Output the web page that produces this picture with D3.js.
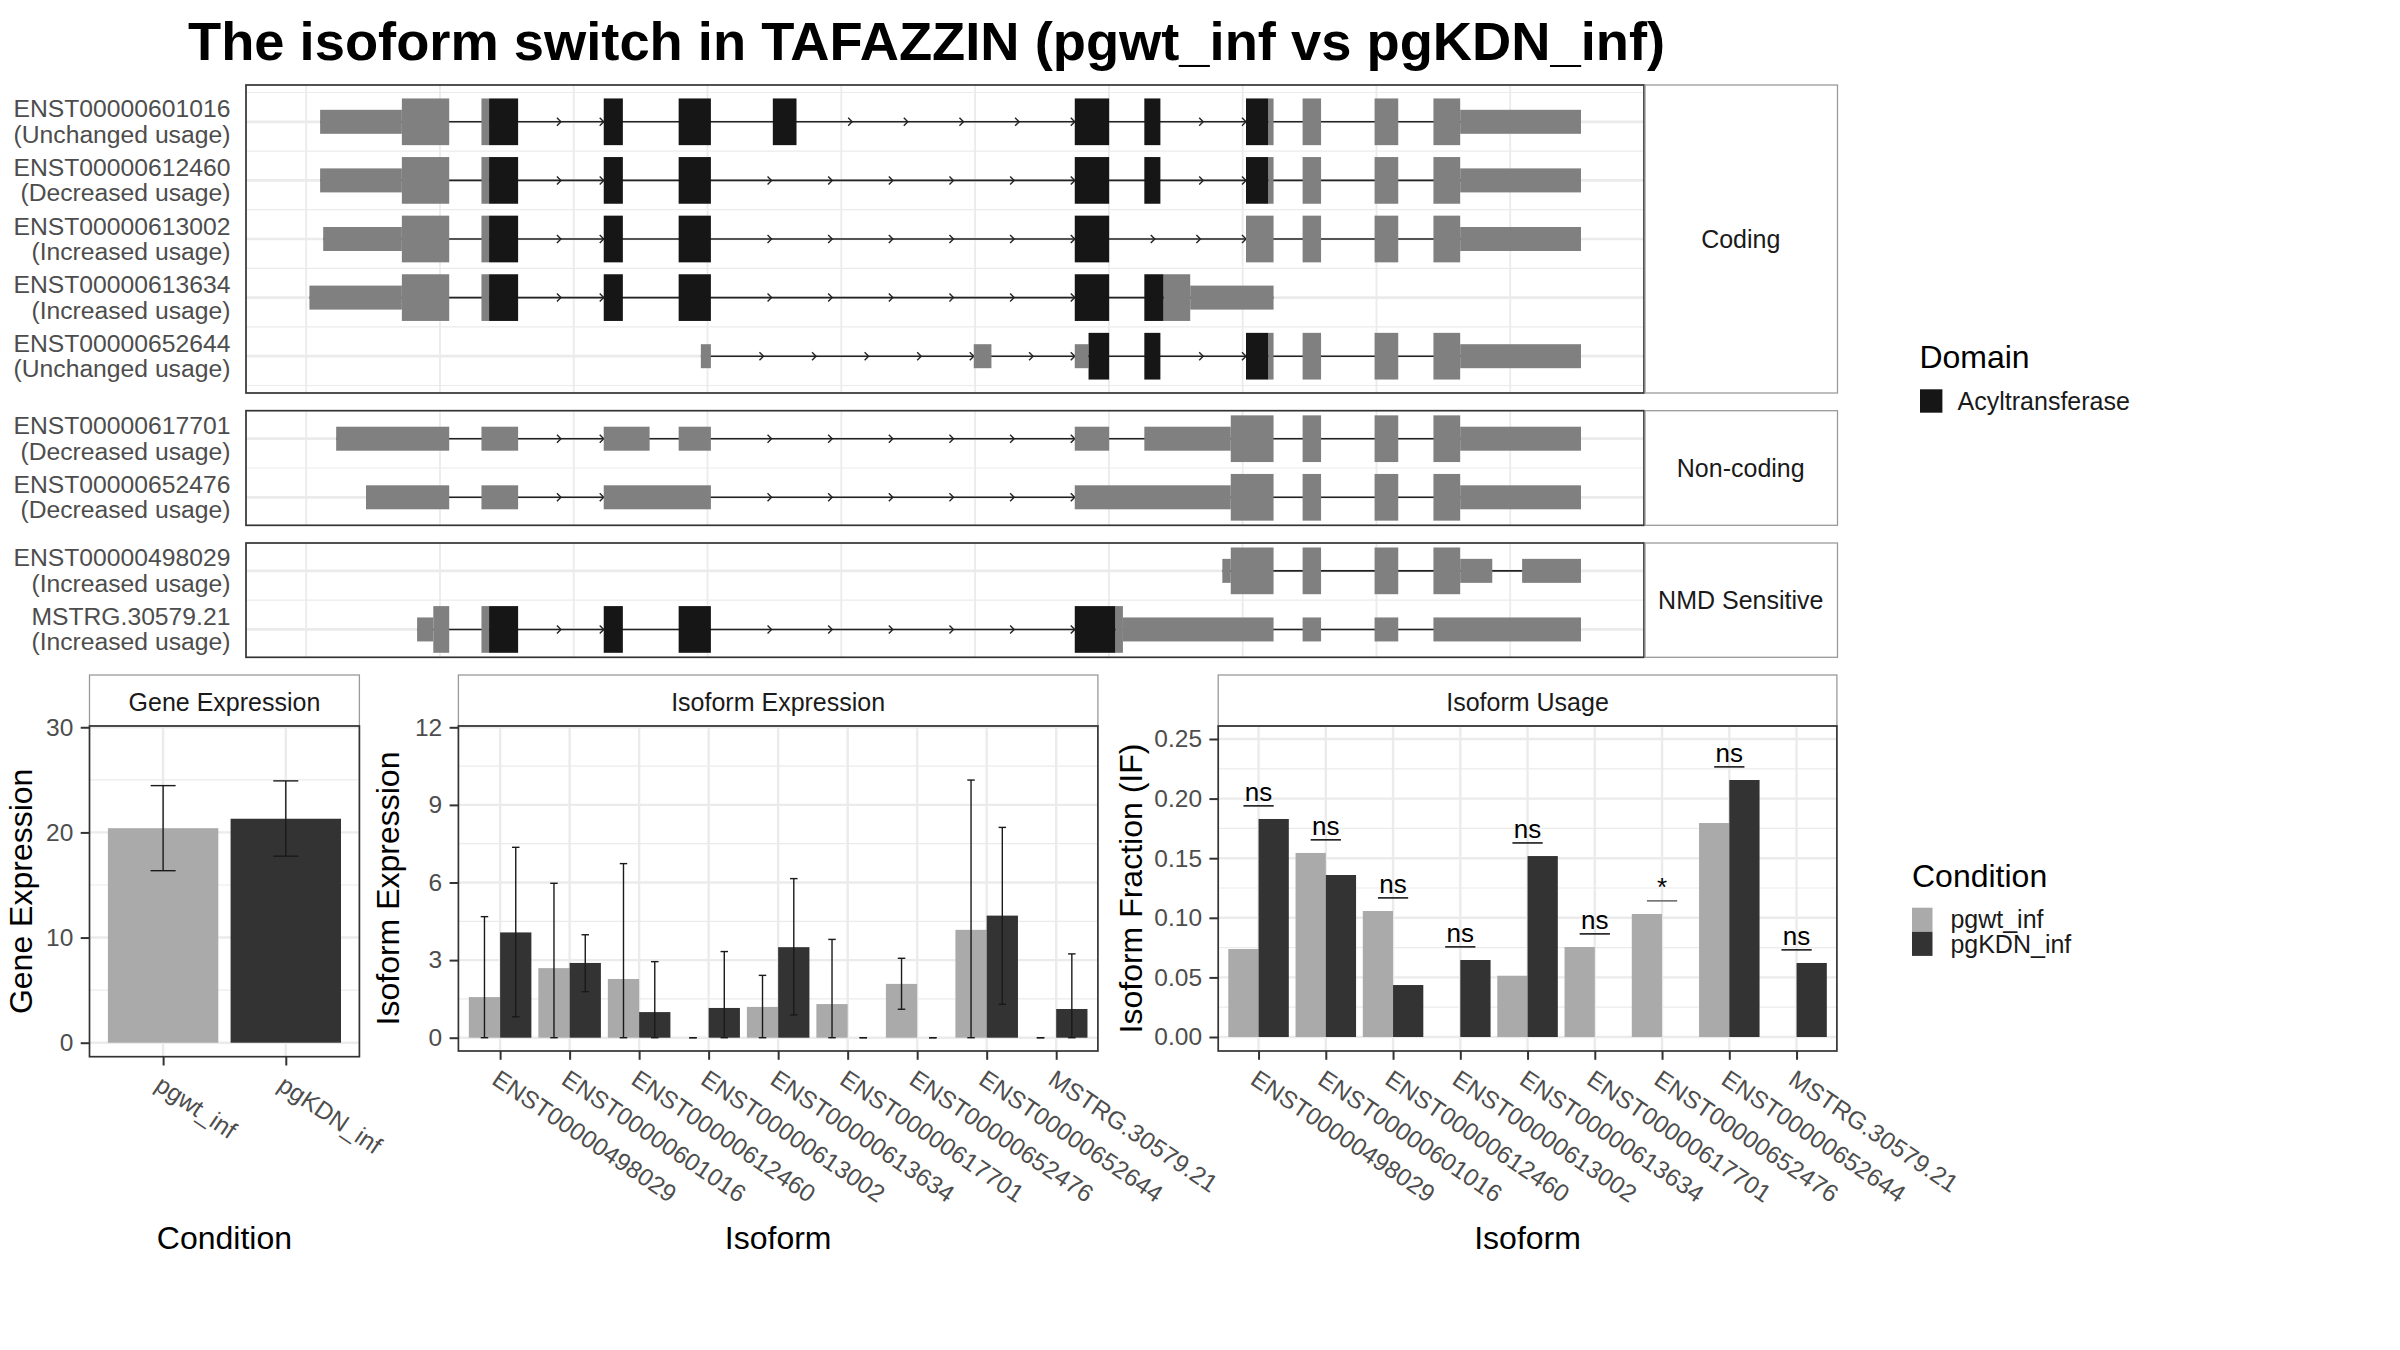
<!DOCTYPE html>
<html>
<head>
<meta charset="utf-8">
<title>Isoform switch in TAFAZZIN</title>
<script src="https://cdn.jsdelivr.net/npm/d3@7/dist/d3.min.js"></script>
<style>
  body { margin: 0; background: #fff; }
  svg text { font-family: "Liberation Sans", Arial, Helvetica, sans-serif; }
</style>
</head>
<body>
<svg id="chart" width="2400" height="1350"></svg>
<script>
// ---------- data ----------
const title = "The isoform switch in TAFAZZIN (pgwt_inf vs pgKDN_inf)";

const txGroups = ["Coding", "Non-coding", "NMD Sensitive"];
const txNames = ["ENST00000601016", "ENST00000612460", "ENST00000613002", "ENST00000613634", "ENST00000652644",
                 "ENST00000617701", "ENST00000652476",
                 "ENST00000498029", "MSTRG.30579.21"];
const txUsage = ["Unchanged usage", "Decreased usage", "Increased usage", "Increased usage", "Unchanged usage",
                 "Decreased usage", "Decreased usage",
                 "Increased usage", "Increased usage"];
const txGroup = [0, 0, 0, 0, 0, 1, 1, 2, 2];

// exon pieces (rescaled genomic position): [start, end, kind]  u = UTR, c = CDS, d = Acyltransferase
const txExons = [
  [[10.4, 71.5, "u"], [71.5, 106.9, "c"], [131, 136.7, "c"], [136.7, 158.4, "d"], [222.4, 236.7, "d"], [278.4, 302.5, "d"],
   [348.8, 366.5, "d"], [574.5, 600.2, "d"], [626.5, 638.5, "d"], [702.5, 719.1, "d"], [719.1, 723.1, "c"],
   [744.8, 758.6, "c"], [798.6, 816.3, "c"], [842.6, 862.6, "c"], [862.6, 952.9, "u"]],
  [[10.4, 71.5, "u"], [71.5, 106.9, "c"], [131, 136.7, "c"], [136.7, 158.4, "d"], [222.4, 236.7, "d"], [278.4, 302.5, "d"],
   [574.5, 600.2, "d"], [626.5, 638.5, "d"], [702.5, 719.1, "d"], [719.1, 723.1, "c"],
   [744.8, 758.6, "c"], [798.6, 816.3, "c"], [842.6, 862.6, "c"], [862.6, 952.9, "u"]],
  [[12.7, 71.5, "u"], [71.5, 106.9, "c"], [131, 136.7, "c"], [136.7, 158.4, "d"], [222.4, 236.7, "d"], [278.4, 302.5, "d"],
   [574.5, 600.2, "d"], [702.5, 723.1, "c"],
   [744.8, 758.6, "c"], [798.6, 816.3, "c"], [842.6, 862.6, "c"], [862.6, 952.9, "u"]],
  [[2.4, 71.5, "u"], [71.5, 106.9, "c"], [131, 136.7, "c"], [136.7, 158.4, "d"], [222.4, 236.7, "d"], [278.4, 302.5, "d"],
   [574.5, 600.2, "d"], [626.5, 640.8, "d"], [640.8, 660.8, "c"], [660.8, 723.1, "u"]],
  [[295, 302.5, "u"], [499, 512.2, "u"], [574.5, 584.8, "u"], [584.8, 600.2, "d"], [626.5, 638.5, "d"],
   [702.5, 719.1, "d"], [719.1, 723.1, "c"],
   [744.8, 758.6, "c"], [798.6, 816.3, "c"], [842.6, 862.6, "c"], [862.6, 952.9, "u"]],
  [[22.4, 106.9, "u"], [131, 158.4, "u"], [222.4, 256.7, "u"], [278.4, 302.5, "u"], [574.5, 600.2, "u"],
   [626.5, 691.1, "u"], [691.1, 723.1, "c"],
   [744.8, 758.6, "c"], [798.6, 816.3, "c"], [842.6, 862.6, "c"], [862.6, 952.9, "u"]],
  [[44.7, 106.9, "u"], [131, 158.4, "u"], [222.4, 302.5, "u"], [574.5, 691.1, "u"], [691.1, 723.1, "c"],
   [744.8, 758.6, "c"], [798.6, 816.3, "c"], [842.6, 862.6, "c"], [862.6, 952.9, "u"]],
  [[684.8, 691.1, "u"], [691.1, 723.1, "c"], [744.8, 758.6, "c"], [798.6, 816.3, "c"], [842.6, 862.6, "c"],
   [862.6, 886.6, "u"], [908.9, 952.9, "u"]],
  [[82.9, 95, "u"], [95, 106.9, "c"], [131, 136.7, "c"], [136.7, 158.4, "d"], [222.4, 236.7, "d"], [278.4, 302.5, "d"],
   [574.5, 604.8, "d"], [604.8, 610.5, "c"], [610.5, 723.1, "u"],
   [744.8, 758.6, "u"], [798.6, 816.3, "u"], [842.6, 952.9, "u"]]
];
const gridBreaks = [0, 100, 200, 300, 400, 500, 600, 700, 800, 900];

const conditions = ["pgwt_inf", "pgKDN_inf"];
const geneExpr = [20.4, 21.3];
const geneLo = [16.36, 17.74];
const geneHi = [24.45, 24.9];
const geneTicks = [0, 10, 20, 30];

const isoforms = ["ENST00000498029", "ENST00000601016", "ENST00000612460", "ENST00000613002", "ENST00000613634",
                  "ENST00000617701", "ENST00000652476", "ENST00000652644", "MSTRG.30579.21"];
const exprWt   = [1.57, 2.69, 2.27, 0, 1.19, 1.30, 2.08, 4.17, 0];
const exprWtLo = [0, 0, 0, 0, 0, 0, 1.10, 0, 0];
const exprWtHi = [4.68, 5.97, 6.73, 0, 2.41, 3.80, 3.07, 9.96, 0];
const exprKd   = [4.07, 2.89, 0.99, 1.15, 3.50, 0, 0, 4.72, 1.11];
const exprKdLo = [0.81, 1.78, 0, 0, 0.88, 0, 0, 1.29, 0];
const exprKdHi = [7.36, 3.98, 2.94, 3.33, 6.15, 0, 0, 8.13, 3.24];
const exprTicks = [0, 3, 6, 9, 12];

const ifWt = [0.0738, 0.1544, 0.1057, 0, 0.0514, 0.0755, 0.1032, 0.1795, 0];
const ifKd = [0.1829, 0.1359, 0.0436, 0.0646, 0.1518, 0, 0, 0.2156, 0.0621];
const ifSig = ["ns", "ns", "ns", "ns", "ns", "ns", "*", "ns", "ns"];
const ifTicks = [0, 0.05, 0.10, 0.15, 0.20, 0.25];

// ---------- style ----------
const GRID = "#ebebeb", BORDER = "#333333", STRIP = "#9a9a9a", AXTXT = "#4d4d4d", INK = "#1a1a1a";
const exonFill = {u: "#808080", c: "#808080", d: "#161616"};
const condFill = ["#aaaaaa", "#333333"];

const svg = d3.select("#chart");
svg.append("rect").attr("width", 2400).attr("height", 1350).attr("fill", "#fff");

svg.append("text").attr("x", 188).attr("y", 60)
  .attr("font-size", 54.3).attr("font-weight", "bold").attr("fill", "#000")
  .text(title);

// ---------- transcript structure ----------
const txLeft = 246, txRight = 1644, stripRight = 1837.5, rowStep = 58.6;
const xg = d3.scaleLinear().domain([-45, 1000]).range([txLeft, txRight]);
const txPanels = [
  {top: 85, bottom: 393},
  {top: 410.7, bottom: 525.3},
  {top: 543, bottom: 657.3}
];

txPanels.forEach((p, pi) => {
  const idx = txNames.map((d, i) => i).filter(i => txGroup[i] === pi);
  const names = idx.map(i => txNames[i]);
  const pad = ((p.bottom - p.top) / rowStep - (names.length - 1)) / 2;
  const y = d3.scalePoint().domain(names).range([p.top, p.bottom]).padding(pad);
  const step = y.step();
  const g = svg.append("g");

  g.selectAll(".vg").data(gridBreaks).enter().append("line")
    .attr("x1", d => xg(d)).attr("x2", d => xg(d))
    .attr("y1", p.top).attr("y2", p.bottom)
    .attr("stroke", GRID).attr("stroke-width", 1.8);

  const minors = names.map(n => y(n) - step / 2).concat([y(names[names.length - 1]) + step / 2])
    .filter(v => v > p.top + 2 && v < p.bottom - 2);
  g.selectAll(".mg").data(minors).enter().append("line")
    .attr("x1", txLeft).attr("x2", txRight).attr("y1", d => d).attr("y2", d => d)
    .attr("stroke", GRID).attr("stroke-width", 1.2);
  g.selectAll(".hg").data(names).enter().append("line")
    .attr("x1", txLeft).attr("x2", txRight).attr("y1", d => y(d)).attr("y2", d => y(d))
    .attr("stroke", GRID).attr("stroke-width", 2.7);

  idx.forEach(i => {
    const cy = y(txNames[i]);
    const ex = txExons[i];
    g.append("line")
      .attr("x1", xg(d3.min(ex, e => e[0]))).attr("x2", xg(d3.max(ex, e => e[1])))
      .attr("y1", cy).attr("y2", cy)
      .attr("stroke", "#222").attr("stroke-width", 1.6);

    // direction arrows along the introns
    for (let k = 0; k < ex.length - 1; k++) {
      const a = xg(ex[k][1]), b = xg(ex[k + 1][0]);
      const L = b - a;
      if (L < 70) continue;
      const m = Math.ceil(L / 61);
      for (let j = 1; j <= m; j++) {
        const t = a + L * j / m;
        g.append("path")
          .attr("d", `M${t - 4},${cy - 4}L${t},${cy}L${t - 4},${cy + 4}`)
          .attr("fill", "none").attr("stroke", "#222").attr("stroke-width", 1.4);
      }
    }

    const order = ex.filter(e => e[2] !== "d").concat(ex.filter(e => e[2] === "d"));
    g.selectAll(null).data(order).enter().append("rect")
      .attr("x", e => xg(e[0]))
      .attr("width", e => xg(e[1]) - xg(e[0]))
      .attr("y", e => cy - (e[2] === "u" ? 12 : 23.35))
      .attr("height", e => e[2] === "u" ? 24 : 46.7)
      .attr("fill", e => exonFill[e[2]]);

    g.append("text").attr("x", 230.4).attr("y", cy - 4.4)
      .attr("text-anchor", "end").attr("font-size", 24.7).attr("fill", AXTXT)
      .text(txNames[i]);
    g.append("text").attr("x", 230.4).attr("y", cy + 21)
      .attr("text-anchor", "end").attr("font-size", 24.7).attr("fill", AXTXT)
      .text("(" + txUsage[i] + ")");
  });

  g.append("rect").attr("x", txLeft).attr("y", p.top)
    .attr("width", txRight - txLeft).attr("height", p.bottom - p.top)
    .attr("fill", "none").attr("stroke", BORDER).attr("stroke-width", 1.7);
  g.append("rect").attr("x", txRight + 1).attr("y", p.top)
    .attr("width", stripRight - txRight - 1).attr("height", p.bottom - p.top)
    .attr("fill", "#fff").attr("stroke", STRIP).attr("stroke-width", 1.3);
  g.append("text").attr("x", (txRight + stripRight) / 2).attr("y", (p.top + p.bottom) / 2 + 8.8)
    .attr("text-anchor", "middle").attr("font-size", 25).attr("fill", INK)
    .text(txGroups[pi]);
});

// Domain legend
svg.append("text").attr("x", 1919.4).attr("y", 368).attr("font-size", 32).attr("fill", "#000").text("Domain");
svg.append("rect").attr("x", 1920).attr("y", 389.3).attr("width", 22.4).attr("height", 23.4).attr("fill", exonFill.d);
svg.append("text").attr("x", 1957.6).attr("y", 409.8).attr("font-size", 25).attr("fill", INK).text("Acyltransferase");

// ---------- bar panels ----------
const stripTop = 675;

function barPanel(o) {
  const x = d3.scalePoint().domain(o.cats).range([o.left, o.right]).padding(0.6);
  const y = d3.scaleLinear().domain(o.yDomain).range([o.bottom, o.top]);
  const g = svg.append("g");
  g.append("rect").attr("x", o.left).attr("y", stripTop)
    .attr("width", o.right - o.left).attr("height", o.top - stripTop)
    .attr("fill", "#fff").attr("stroke", STRIP).attr("stroke-width", 1.3);
  g.append("text").attr("x", (o.left + o.right) / 2).attr("y", 710.5)
    .attr("text-anchor", "middle").attr("font-size", 25).attr("fill", INK).text(o.strip);

  g.selectAll(".mn").data(o.minor).enter().append("line")
    .attr("x1", o.left).attr("x2", o.right).attr("y1", d => y(d)).attr("y2", d => y(d))
    .attr("stroke", GRID).attr("stroke-width", 1.2);
  g.selectAll(".mj").data(o.ticks).enter().append("line")
    .attr("x1", o.left).attr("x2", o.right).attr("y1", d => y(d)).attr("y2", d => y(d))
    .attr("stroke", GRID).attr("stroke-width", 2.4);
  g.selectAll(".vx").data(o.cats).enter().append("line")
    .attr("x1", d => x(d)).attr("x2", d => x(d)).attr("y1", o.top).attr("y2", o.bottom)
    .attr("stroke", GRID).attr("stroke-width", 2.4);
  return {g, x, y};
}

function finishPanel(o, s) {
  s.g.append("rect").attr("x", o.left).attr("y", o.top)
    .attr("width", o.right - o.left).attr("height", o.bottom - o.top)
    .attr("fill", "none").attr("stroke", BORDER).attr("stroke-width", 1.7);

  const ya = svg.append("g").attr("transform", `translate(${o.left},0)`)
    .call(d3.axisLeft(s.y).tickValues(o.ticks).tickFormat(o.fmt).tickSize(8.8).tickPadding(7.4));
  ya.select(".domain").remove();
  ya.selectAll("line").attr("stroke", BORDER).attr("stroke-width", 2);
  ya.selectAll("text").attr("fill", AXTXT).attr("font-size", 24.5);

  const xa = svg.append("g").attr("transform", `translate(0,${o.bottom})`)
    .call(d3.axisBottom(s.x).tickSize(8.8));
  xa.select(".domain").remove();
  xa.selectAll("line").attr("stroke", BORDER).attr("stroke-width", 2);
  xa.selectAll("text").attr("x", null).attr("y", null).attr("dy", null)
    .attr("text-anchor", "start")
    .attr("transform", "translate(-10,32) rotate(34)")
    .attr("fill", AXTXT).attr("font-size", 24.5);

  svg.append("text").attr("x", (o.left + o.right) / 2).attr("y", 1249.3)
    .attr("text-anchor", "middle").attr("font-size", 32).attr("fill", "#000").text(o.xTitle);
  svg.append("text")
    .attr("transform", `translate(${o.yTitleX},${(o.top + o.bottom) / 2}) rotate(-90)`)
    .attr("text-anchor", "middle").attr("font-size", 32).attr("fill", "#000").text(o.yTitle);
}

function errorBars(g, xs, lo, hi, y, cap) {
  xs.forEach((cx, i) => {
    const y1 = y(lo[i]), y2 = y(hi[i]);
    g.append("line").attr("x1", cx).attr("x2", cx).attr("y1", y1).attr("y2", y2)
      .attr("stroke", INK).attr("stroke-width", 1.4);
    [y1, y2].forEach(yy => g.append("line")
      .attr("x1", cx - cap / 2).attr("x2", cx + cap / 2).attr("y1", yy).attr("y2", yy)
      .attr("stroke", INK).attr("stroke-width", 1.4));
  });
}

// Gene expression
const geneOpt = {cats: conditions, left: 89.5, right: 359.4, top: 726, bottom: 1056.7,
  yDomain: [-1.33, 30.12], ticks: geneTicks, minor: [5, 15, 25], fmt: d3.format("d"),
  strip: "Gene Expression", xTitle: "Condition", yTitle: "Gene Expression", yTitleX: 32};
const gp = barPanel(geneOpt);
const gbw = gp.x.step() * 0.9;
gp.g.selectAll(".bar").data(conditions).enter().append("rect")
  .attr("x", d => gp.x(d) - gbw / 2).attr("width", gbw)
  .attr("y", (d, i) => gp.y(geneExpr[i])).attr("height", (d, i) => gp.y(0) - gp.y(geneExpr[i]))
  .attr("fill", (d, i) => condFill[i]);
errorBars(gp.g, conditions.map(c => gp.x(c)), geneLo, geneHi, gp.y, 25);
finishPanel(geneOpt, gp);

// Isoform expression
const exprOpt = {cats: isoforms, left: 458.4, right: 1097.9, top: 726, bottom: 1051,
  yDomain: [-0.514, 12.05], ticks: exprTicks, minor: [1.5, 4.5, 7.5, 10.5], fmt: d3.format("d"),
  strip: "Isoform Expression", xTitle: "Isoform", yTitle: "Isoform Expression", yTitleX: 399};
const ep = barPanel(exprOpt);
const ebw = ep.x.step() * 0.45;
[[exprWt, exprWtLo, exprWtHi, -1], [exprKd, exprKdLo, exprKdHi, 1]].forEach((s, si) => {
  ep.g.selectAll(null).data(isoforms).enter().append("rect")
    .attr("x", d => ep.x(d) + (s[3] < 0 ? -ebw : 0)).attr("width", ebw)
    .attr("y", (d, i) => ep.y(s[0][i])).attr("height", (d, i) => ep.y(0) - ep.y(s[0][i]))
    .attr("fill", condFill[si]);
});
[[exprWtLo, exprWtHi, -1], [exprKdLo, exprKdHi, 1]].forEach(s => {
  errorBars(ep.g, isoforms.map(d => ep.x(d) + s[2] * ebw / 2), s[0], s[1], ep.y, 7.5);
});
finishPanel(exprOpt, ep);

// Isoform usage
const ifOpt = {cats: isoforms, left: 1218.2, right: 1836.9, top: 726, bottom: 1051,
  yDomain: [-0.01174, 0.2609], ticks: ifTicks, minor: [0.025, 0.075, 0.125, 0.175, 0.225], fmt: d3.format(".2f"),
  strip: "Isoform Usage", xTitle: "Isoform", yTitle: "Isoform Fraction (IF)", yTitleX: 1142};
const up = barPanel(ifOpt);
const ubw = up.x.step() * 0.45;
[[ifWt, -1], [ifKd, 1]].forEach((s, si) => {
  up.g.selectAll(null).data(isoforms).enter().append("rect")
    .attr("x", d => up.x(d) + (s[1] < 0 ? -ubw : 0)).attr("width", ubw)
    .attr("y", (d, i) => up.y(s[0][i])).attr("height", (d, i) => up.y(0) - up.y(s[0][i]))
    .attr("fill", condFill[si]);
});
isoforms.forEach((d, i) => {
  const ly = up.y(Math.max(ifWt[i], ifKd[i]) + 0.011);
  const star = ifSig[i] !== "ns";
  up.g.append("line")
    .attr("x1", up.x(d) - ubw / 2).attr("x2", up.x(d) + ubw / 2).attr("y1", ly).attr("y2", ly)
    .attr("stroke", star ? "#6e6e6e" : INK).attr("stroke-width", 1.6);
  up.g.append("text").attr("x", up.x(d)).attr("y", ly - 5)
    .attr("text-anchor", "middle").attr("font-size", 26).attr("fill", "#000").text(ifSig[i]);
});
finishPanel(ifOpt, up);

// Condition legend
svg.append("text").attr("x", 1912).attr("y", 886.7).attr("font-size", 32).attr("fill", "#000").text("Condition");
svg.selectAll(".ck").data(conditions).enter().append("rect")
  .attr("x", 1912).attr("y", (d, i) => 907.7 + i * 24.1).attr("width", 20.5).attr("height", 24.1)
  .attr("fill", (d, i) => condFill[i]);
svg.selectAll(".cl").data(conditions).enter().append("text")
  .attr("x", 1950.4).attr("y", (d, i) => 928.4 + i * 24.1)
  .attr("font-size", 25).attr("fill", INK).text(d => d);
</script>
</body>
</html>
